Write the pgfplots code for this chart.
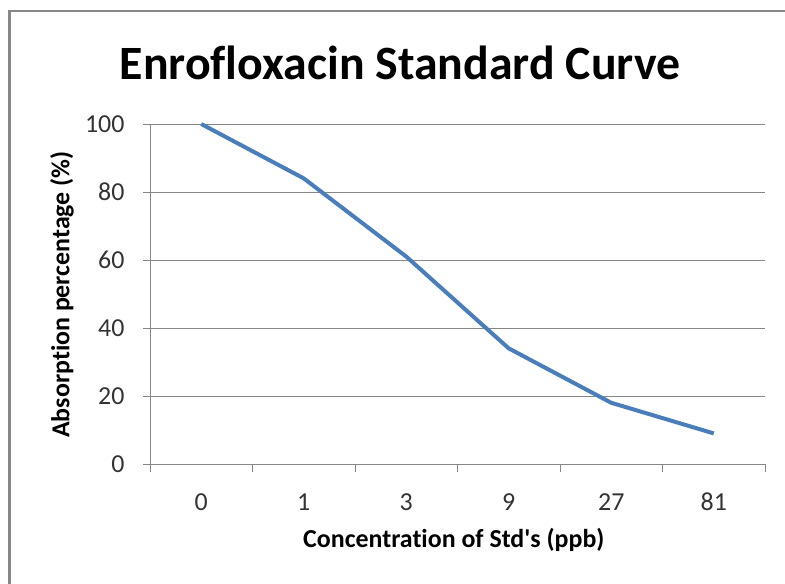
\documentclass[border=0pt]{standalone}
\usepackage{pgfplots}
\pgfplotsset{compat=1.18}
\usepackage{fontspec}
\setmainfont{Carlito}[Ligatures={NoCommon}]
\definecolor{linec}{HTML}{4A7EBB}
\definecolor{axc}{HTML}{868686}
\definecolor{framec}{HTML}{888888}
\begin{document}
\begin{tikzpicture}[x=1bp,y=1bp]
\path[use as bounding box] (0,0) rectangle (785,584);
\draw[framec, line width=2.2bp] (9.5,0) -- (9.5,573) -- (785,573);
\node[font=\bfseries\fontsize{48}{52}\selectfont, anchor=base] at (400,504) {Enrofloxacin Standard Curve};
\begin{axis}[
  at={(150bp,120bp)}, anchor=south west,
  scale only axis, width=615bp, height=340bp,
  xmin=-0.5, xmax=5.5, ymin=0, ymax=100,
  axis x line=bottom, axis y line=left,
  axis line style={-, axc, line width=0.9bp},
  xtick={0,...,5}, xticklabels={0,1,3,9,27,81},
  minor xtick={-0.5,0.5,...,5.5},
  ytick={0,20,...,100},
  major x tick style={draw=none},
  minor x tick style={axc, line width=0.9bp},
  y tick style={axc, line width=0.9bp},
  tick align=outside,
  major tick length=7bp, minor tick length=8bp,
  ymajorgrids, grid style={axc, line width=0.9bp},
  tick label style={font=\fontsize{26}{28}\selectfont, text=black!80},
  /pgf/number format/assume math mode=true,
  xticklabel style={anchor=base, yshift=-40bp},
  yticklabel style={anchor=east, xshift=-15bp},
  xlabel={Concentration of Std\textquotesingle s (ppb)},
  ylabel={Absorption percentage (\%)},
  label style={font=\bfseries\fontsize{26}{28}\selectfont},
  xlabel style={at={(rel axis cs:0.494,-0.247)}, anchor=base},
  ylabel style={at={(rel axis cs:-0.143,0.4985)}, anchor=center},
  clip=false,
]
\addplot[linec, line width=4bp, line join=round] coordinates {
 (0,100) (1,84) (2,61) (3,34) (4,18) (5,9)
};
\end{axis}
\end{tikzpicture}
\end{document}
